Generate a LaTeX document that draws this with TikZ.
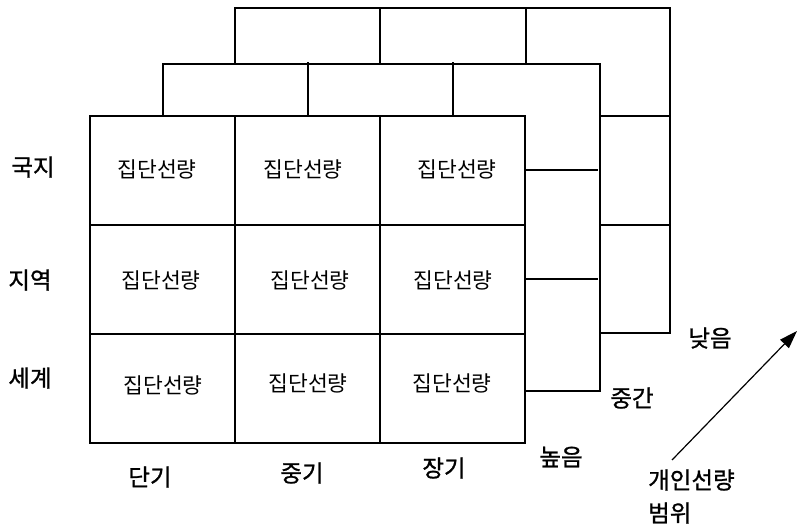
\documentclass[tikz,border=0pt]{standalone}
\usepackage{fontspec}
\setmainfont{Noto Sans CJK KR}
\newfontfamily\labfont[FakeBold=1]{Noto Sans CJK KR}
\usetikzlibrary{arrows.meta}
\begin{document}
\begin{tikzpicture}[x=1pt,y=-1pt,
  gridline/.style={line width=2.2pt, line join=miter},
  cell/.style={draw, line width=2.2pt, minimum width=145pt, minimum height=109pt, inner sep=0pt},
  lab/.style={inner sep=0pt, font=\labfont\fontsize{23.5}{23.5}\selectfont},
  dose/.style={inner sep=0pt, font=\fontsize{21.5}{21.5}\selectfont}]
\useasboundingbox (0,0) rectangle (799,528);
% back layer
\draw[gridline] (235,64) -- (235,8) -- (670,8) -- (670,333) -- (600,333);
\draw[gridline] (380,8) -- (380,64);
\draw[gridline] (526,8) -- (526,64);
\draw[gridline] (600,116) -- (670,116);
\draw[gridline] (600,225) -- (670,225);
% middle layer
\draw[gridline] (163,116) -- (163,64) -- (600,64) -- (600,391) -- (526,391);
\draw[gridline] (308,62) -- (308,116);
\draw[gridline] (453,62) -- (453,116);
\draw[gridline] (526,170) -- (598,170);
\draw[gridline] (526,279) -- (598,279);
% front grid
\node[cell] (c11) at (162.5,170.5) {};
\node[cell] (c12) at (307.5,170.5) {};
\node[cell] (c13) at (452.5,170.5) {};
\node[cell] (c21) at (162.5,279.5) {};
\node[cell] (c22) at (307.5,279.5) {};
\node[cell] (c23) at (452.5,279.5) {};
\node[cell] (c31) at (162.5,388.5) {};
\node[cell] (c32) at (307.5,388.5) {};
\node[cell] (c33) at (452.5,388.5) {};
\node[dose] (t11) at (157,169) {집단선량};
\node[dose] (t12) at (303,169) {집단선량};
\node[dose] (t13) at (457,169) {집단선량};
\node[dose] (t21) at (161,280) {집단선량};
\node[dose] (t22) at (310,280) {집단선량};
\node[dose] (t23) at (453,280) {집단선량};
\node[dose] (t31) at (163,385) {집단선량};
\node[dose] (t32) at (308,383) {집단선량};
\node[dose] (t33) at (452,383) {집단선량};
% labels
\node[lab] (r1) at (33,167) {국지};
\node[lab] (r2) at (30,280) {지역};
\node[lab] (r3) at (30,378) {세계};
\node[lab] (k1) at (150,477) {단기};
\node[lab] (k2) at (302,473) {중기};
\node[lab] (k3) at (444,468) {장기};
\node[lab] (h1) at (561,457) {높음};
\node[lab] (h2) at (632,398) {중간};
\node[lab] (h3) at (710,338) {낮음};
\node[lab, anchor=west] (p1) at (648,480) {개인선량};
\node[lab, anchor=west] (p2) at (648,513) {범위};
\coordinate (a0) at (672,460);
\coordinate (a1) at (797,331);
\draw[line width=1.2pt, -{Triangle[length=18pt,width=12pt]}] (a0) -- (a1);
\end{tikzpicture}
\end{document}
